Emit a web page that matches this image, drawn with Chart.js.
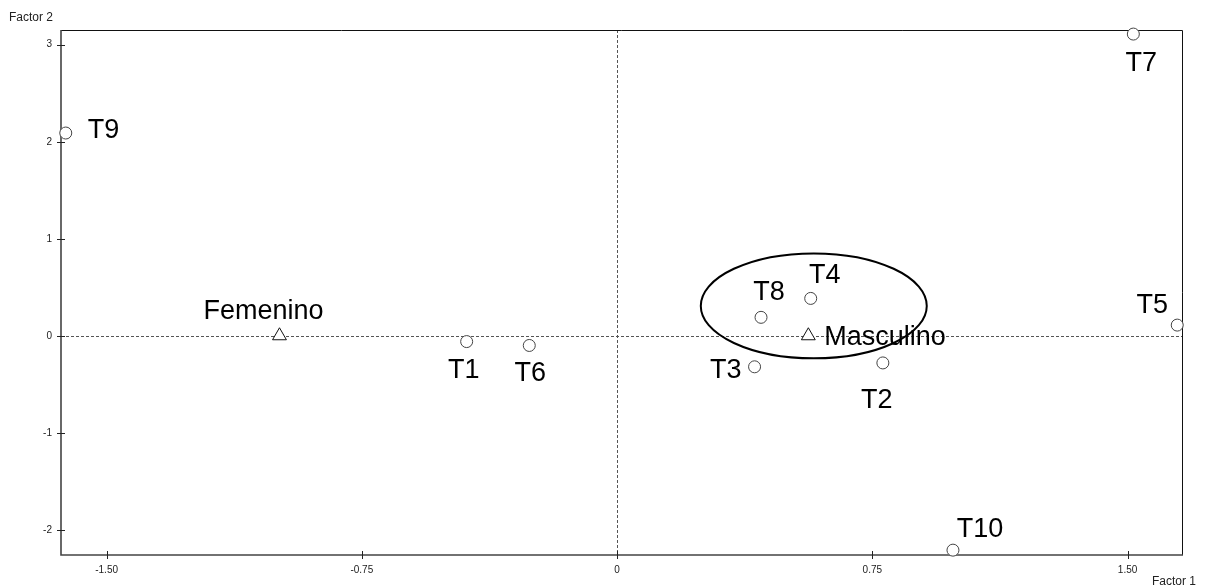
<!DOCTYPE html>
<html>
<head>
<meta charset="utf-8">
<script src="https://cdn.jsdelivr.net/npm/chart.js@4"></script>
<style>
  html, body { margin: 0; padding: 0; background: #fff; }
  #wrap { width: 1205px; height: 587px; }
</style>
</head>
<body>
<div id="wrap"><canvas id="chart" width="1205" height="587"></canvas></div>
<script>
// points (columns)
const pointNames = ['T1', 'T2', 'T3', 'T4', 'T5', 'T6', 'T7', 'T8', 'T9', 'T10'];
const factor1 = [-0.442, 0.781, 0.404, 0.569, 1.646, -0.258, 1.517, 0.423, -1.62, 0.987];
const factor2 = [-0.06, -0.28, -0.32, 0.385, 0.11, -0.10, 3.11, 0.19, 2.09, -2.21];

// groups (rows)
const groupNames = ['Femenino', 'Masculino'];
const groupF1 = [-0.992, 0.562];
const groupF2 = [0, 0];

// ellipse round the Masculino cluster
const ellipseCenter = [0.578, 0.308];
const ellipseRadii = [0.332, 0.541];

const xTicks = [-1.5, -0.75, 0, 0.75, 1.5];
const xTickLabels = ['-1.50', '-0.75', '0', '0.75', '1.50'];
const yTicks = [-2, -1, 0, 1, 2, 3];
const yTickLabels = ['-2', '-1', '0', '1', '2', '3'];

// label placement, pixels from the mark: [dx, dy, align]
const pointLabelPos = [
    [-3, 36, 'center'], [-6, 45, 'center'], [-13, 11, 'right'], [14, -15, 'center'],
    [-25, -12, 'center'], [1, 36, 'center'], [8, 37, 'center'], [8, -17, 'center'],
    [22, 5, 'left'], [27, -13, 'center']
];
const groupLabelPos = [[-16, -17, 'center'], [16, 9, 'left']];

const labelFont = '27px "Liberation Sans", Arial, sans-serif';
const smallFont = '12px "Liberation Sans", Arial, sans-serif';

const overlay = {
    id: 'overlay',
    beforeDatasetsDraw(chart) {
        const { ctx, chartArea: a, scales: { x, y } } = chart;
        ctx.save();
        // zero lines
        ctx.strokeStyle = '#555';
        ctx.lineWidth = 1;
        ctx.setLineDash([3, 2]);
        const x0 = Math.round(x.getPixelForValue(0)) + 0.5;
        const y0 = Math.round(y.getPixelForValue(0)) + 0.5;
        ctx.beginPath();
        ctx.moveTo(x0, a.top); ctx.lineTo(x0, a.bottom);
        ctx.moveTo(a.left, y0); ctx.lineTo(a.right, y0);
        ctx.stroke();
        ctx.setLineDash([]);

        // frame
        ctx.strokeStyle = '#111';
        ctx.beginPath();
        ctx.moveTo(a.left, a.top + 0.5); ctx.lineTo(a.right + 0.5, a.top + 0.5);
        ctx.lineTo(a.right + 0.5, a.bottom);
        ctx.stroke();
        ctx.strokeStyle = '#444';
        ctx.lineWidth = 1.6;
        ctx.beginPath();
        ctx.moveTo(a.left, a.top); ctx.lineTo(a.left, a.bottom);
        ctx.lineTo(a.right + 1, a.bottom);
        ctx.stroke();

        // tick marks across the axes
        ctx.lineWidth = 1;
        ctx.strokeStyle = '#222';
        ctx.beginPath();
        xTicks.forEach(v => {
            const px = Math.round(x.getPixelForValue(v)) + 0.5;
            ctx.moveTo(px, a.bottom - 4); ctx.lineTo(px, a.bottom + 4);
        });
        yTicks.forEach(v => {
            const py = Math.round(y.getPixelForValue(v)) + 0.5;
            ctx.moveTo(a.left - 4, py); ctx.lineTo(a.left + 4, py);
        });
        ctx.stroke();

        // ellipse
        const cx = x.getPixelForValue(ellipseCenter[0]);
        const cy = y.getPixelForValue(ellipseCenter[1]);
        const rx = x.getPixelForValue(ellipseCenter[0] + ellipseRadii[0]) - cx;
        const ry = cy - y.getPixelForValue(ellipseCenter[1] + ellipseRadii[1]);
        ctx.strokeStyle = '#000';
        ctx.lineWidth = 2;
        ctx.beginPath();
        ctx.ellipse(cx, cy, rx, ry, 0, 0, Math.PI * 2);
        ctx.stroke();
        ctx.restore();
    },
    afterDatasetsDraw(chart) {
        const { ctx, scales: { x, y } } = chart;
        ctx.save();
        ctx.fillStyle = '#000';
        ctx.font = labelFont;
        ctx.textBaseline = 'alphabetic';
        pointNames.forEach((name, i) => {
            const [dx, dy, align] = pointLabelPos[i];
            ctx.textAlign = align;
            ctx.fillText(name, x.getPixelForValue(factor1[i]) + dx, y.getPixelForValue(factor2[i]) + dy);
        });
        groupNames.forEach((name, i) => {
            const [dx, dy, align] = groupLabelPos[i];
            ctx.textAlign = align;
            ctx.fillText(name, x.getPixelForValue(groupF1[i]) + dx, y.getPixelForValue(groupF2[i]) + dy);
        });
        // axis titles
        ctx.font = smallFont;
        ctx.fillStyle = '#222';
        ctx.textAlign = 'left';
        ctx.fillText('Factor 2', 9, 21);
        ctx.textAlign = 'right';
        ctx.fillText('Factor 1', 1196, 585);
        ctx.restore();
    }
};

new Chart(document.getElementById('chart').getContext('2d'), {
    type: 'scatter',
    data: {
        datasets: [{
            label: 'Tipos',
            data: factor1.map((v, i) => ({ x: v, y: factor2[i] })),
            pointStyle: 'circle',
            pointRadius: 6,
            pointHoverRadius: 6,
            borderColor: '#444',
            backgroundColor: '#fff',
            borderWidth: 1,
            clip: false
        }, {
            label: 'Sexo',
            data: groupF1.map((v, i) => ({ x: v, y: groupF2[i] })),
            pointStyle: 'triangle',
            pointRadius: 8,
            pointHoverRadius: 8,
            borderColor: '#111',
            backgroundColor: '#fff',
            borderWidth: 1,
            clip: false
        }]
    },
    options: {
        responsive: false,
        animation: false,
        layout: { padding: { left: 0, top: 30, right: 23, bottom: 0 } },
        plugins: { legend: { display: false }, tooltip: { enabled: false } },
        scales: {
            x: {
                type: 'linear',
                min: -1.634,
                max: 1.660,
                grid: { display: false, drawTicks: false },
                border: { display: false },
                afterBuildTicks: s => { s.ticks = xTicks.map(v => ({ value: v })); },
                afterFit: s => { s.height = 32; },
                ticks: {
                    padding: 9,
                    color: '#222',
                    font: { family: '"Liberation Sans", Arial, sans-serif', size: 10 },
                    callback: v => xTickLabels[xTicks.indexOf(v)]
                }
            },
            y: {
                type: 'linear',
                min: -2.26,
                max: 3.152,
                grid: { display: false, drawTicks: false },
                border: { display: false },
                afterBuildTicks: s => { s.ticks = yTicks.map(v => ({ value: v })); },
                afterFit: s => { s.width = 61; },
                ticks: {
                    padding: 9,
                    color: '#222',
                    font: { family: '"Liberation Sans", Arial, sans-serif', size: 10 },
                    callback: v => yTickLabels[yTicks.indexOf(v)]
                }
            }
        }
    },
    plugins: [overlay]
});
</script>
</body>
</html>
